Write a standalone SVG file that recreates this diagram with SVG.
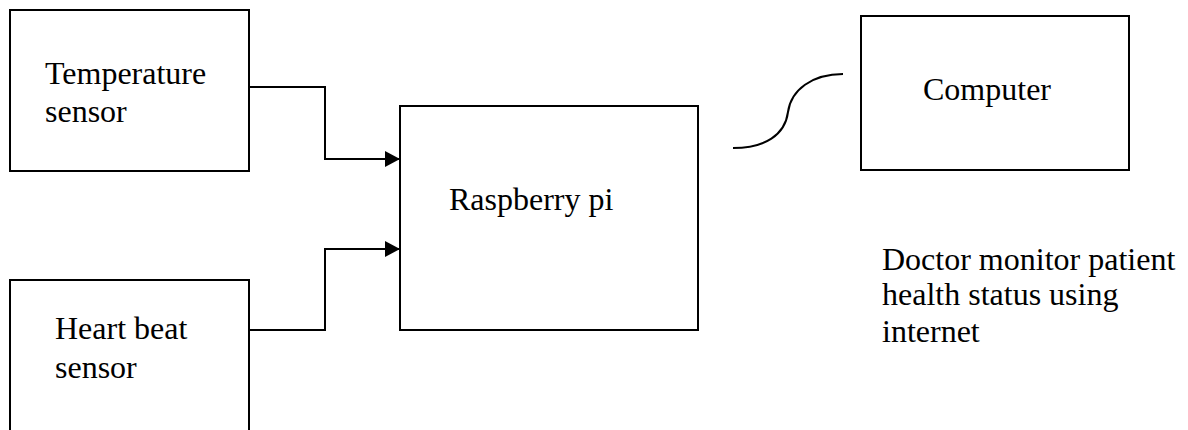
<svg xmlns="http://www.w3.org/2000/svg" width="1188" height="430" viewBox="0 0 1188 430">
<style>
.box{fill:#fff;stroke:#000;stroke-width:2}
.lbl{font-family:"Liberation Serif","Times New Roman",serif;font-size:32px;fill:#000}
.conn{fill:none;stroke:#000;stroke-width:2}
</style>
<defs>
<marker id="arr" markerWidth="15" markerHeight="16" refX="15" refY="8" orient="auto" markerUnits="userSpaceOnUse">
<path d="M0,0 L15,8 L0,16 Z" fill="#000"/>
</marker>
</defs>
<rect width="1188" height="430" fill="#fff"/>
<g id="temperature-sensor">
<rect class="box" x="10" y="10" width="239" height="161"/>
<text class="lbl" x="45" y="84">Temperature</text>
<text class="lbl" x="45" y="122">sensor</text>
</g>
<g id="heart-beat-sensor">
<rect class="box" x="10" y="280" width="239" height="170"/>
<text class="lbl" x="55" y="339">Heart beat</text>
<text class="lbl" x="55" y="378">sensor</text>
</g>
<g id="raspberry-pi">
<rect class="box" x="400" y="106" width="298" height="224"/>
<text class="lbl" x="449" y="210">Raspberry pi</text>
</g>
<g id="computer">
<rect class="box" x="861" y="16" width="268" height="154"/>
<text class="lbl" x="923" y="100">Computer</text>
</g>
<g id="doctor-note">
<text class="lbl" x="882" y="270">Doctor monitor patient</text>
<text class="lbl" x="882" y="305">health status using</text>
<text class="lbl" x="882" y="342">internet</text>
</g>
<g id="connectors">
<path class="conn" d="M249,87 H325 V159 H400" marker-end="url(#arr)"/>
<path class="conn" d="M249,330 H325 V249 H400" marker-end="url(#arr)"/>
<path class="conn" d="M733,148 C765,148 785,135 788,112 C791,90 812,74 843,74"/>
</g>
</svg>
